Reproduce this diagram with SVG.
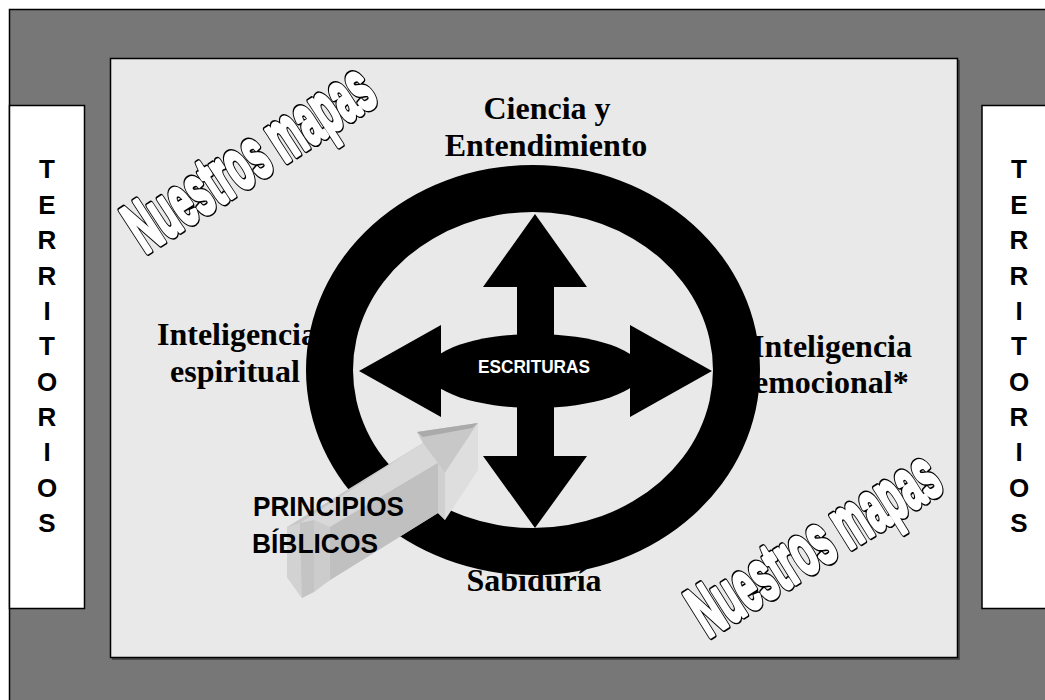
<svg xmlns="http://www.w3.org/2000/svg" xmlns:xlink="http://www.w3.org/1999/xlink" width="1045" height="700" viewBox="0 0 1045 700">
<style>
.lbl{font-family:"Liberation Serif","Times New Roman",serif;font-weight:bold;font-size:32px;fill:#000}
.terr{font-family:"Liberation Sans",Arial,sans-serif;font-weight:bold;font-size:26px;fill:#000;text-anchor:middle}
.wa{font-family:"Liberation Sans",Arial,sans-serif;font-weight:bold;font-size:72px;stroke-linejoin:round}
.waOut{fill:#000;stroke:#000;stroke-width:7.5px}
.waIn{fill:#fff;stroke:#fff;stroke-width:4.2px}
.sans{font-family:"Liberation Sans",Arial,sans-serif;font-weight:bold}
</style>
<defs>
<text id="nm" class="wa" x="0" y="0" textLength="280" lengthAdjust="spacingAndGlyphs">Nuestros mapas</text>
</defs>
<g id="background">
<rect x="9.5" y="9.5" width="1040" height="700" fill="#777777" stroke="#000" stroke-width="1.5"/>
<rect x="112" y="60" width="848" height="600" fill="#4a4a4a"/>
<rect x="110.5" y="58.5" width="847" height="599" fill="#e9e9e9" stroke="#000" stroke-width="1.5"/>
</g>
<g id="territorios-left">
<rect x="9.5" y="105.5" width="75" height="503" fill="#fff" stroke="#000" stroke-width="1.5"/>
<text class="terr"><tspan x="47" y="178">T</tspan><tspan x="47" y="214">E</tspan><tspan x="47" y="249">R</tspan><tspan x="47" y="285">R</tspan><tspan x="47" y="320">I</tspan><tspan x="47" y="355">T</tspan><tspan x="47" y="391">O</tspan><tspan x="47" y="426">R</tspan><tspan x="47" y="461">I</tspan><tspan x="47" y="497">O</tspan><tspan x="47" y="532">S</tspan></text>
</g>
<g id="territorios-right">
<rect x="982" y="105.5" width="70" height="503" fill="#fff" stroke="#000" stroke-width="1.5"/>
<text class="terr"><tspan x="1019" y="178">T</tspan><tspan x="1019" y="214">E</tspan><tspan x="1019" y="249">R</tspan><tspan x="1019" y="285">R</tspan><tspan x="1019" y="320">I</tspan><tspan x="1019" y="355">T</tspan><tspan x="1019" y="391">O</tspan><tspan x="1019" y="426">R</tspan><tspan x="1019" y="461">I</tspan><tspan x="1019" y="497">O</tspan><tspan x="1019" y="532">S</tspan></text>
</g>
<g id="label-ciencia">
<text class="lbl" text-anchor="middle"><tspan x="547" y="119">Ciencia y</tspan><tspan x="546" y="156">Entendimiento</tspan></text>
</g>
<g id="label-espiritual">
<text class="lbl"><tspan x="157" y="345">Inteligencia</tspan><tspan x="170" y="382">espiritual</tspan></text>
</g>
<g id="label-emocional">
<text class="lbl"><tspan x="752" y="357">Inteligencia</tspan><tspan x="754" y="393">emocional*</tspan></text>
</g>
<g id="label-sabiduria">
<text class="lbl" text-anchor="middle" x="534" y="591">Sabiduría</text>
</g>
<g id="ring">
<path fill="#000" fill-rule="evenodd" d="M306,370 a227,205 0 1,0 454,0 a227,205 0 1,0 -454,0 Z M353,370 a180,158 0 1,0 360,0 a180,158 0 1,0 -360,0 Z"/>
</g>
<g id="escrituras">
<polygon fill="#000" points="535,214 587,287 554,287 554,456 587,456 535,528 483,456 517,456 517,287 483,287"/>
<polygon fill="#000" points="359,371 441,325 441,360 630,360 630,325 712,371 630,417 630,382 441,382 441,417"/>
<ellipse cx="535" cy="371" rx="107" ry="37" fill="#000"/>
<text class="sans" x="534" y="373" font-size="19" fill="#fff" text-anchor="middle" textLength="112" lengthAdjust="spacingAndGlyphs">ESCRITURAS</text>
</g>
<g id="principios">
<polygon fill="#c8c8c8" points="287,527 423,443 417,432 478,423 445,473 445,520 438,513 330,580 302,598 287,577"/>
<polygon fill="#d8d8d8" points="300,523 423,443 438,463 330,527"/>
<polygon fill="#c0c0c0" points="330,527 438,463 438,513 330,580"/>
<polygon fill="#dedede" points="478,423 478,470 445,520 445,473"/>
<polygon fill="#d0d0d0" points="438,463 445,473 445,520 438,513"/>
<polygon fill="#aaaaaa" points="417,432 478,423 472,428 423,437"/>
<polygon fill="#d2d2d2" points="287,527 300,523 302,598 287,577"/>
<polygon fill="#c4c4c4" points="300,523 314,520 314,592 302,598"/>
<polygon fill="#cccccc" points="314,520 330,527 330,580 314,592"/>
<text class="sans" font-size="28" fill="#000"><tspan x="253" y="516" textLength="151" lengthAdjust="spacingAndGlyphs">PRINCIPIOS</tspan><tspan x="252" y="553" textLength="126" lengthAdjust="spacingAndGlyphs">BÍBLICOS</tspan></text>
</g>
<g id="nuestros-mapas-1" transform="translate(145,254) rotate(-33)">
<use xlink:href="#nm" href="#nm" class="waOut"/>
<use xlink:href="#nm" href="#nm" class="waIn"/>
</g>
<g id="nuestros-mapas-2" transform="translate(708,638) rotate(-32)">
<use xlink:href="#nm" href="#nm" class="waOut"/>
<use xlink:href="#nm" href="#nm" class="waIn"/>
</g>
<g id="connectors"></g>
</svg>
